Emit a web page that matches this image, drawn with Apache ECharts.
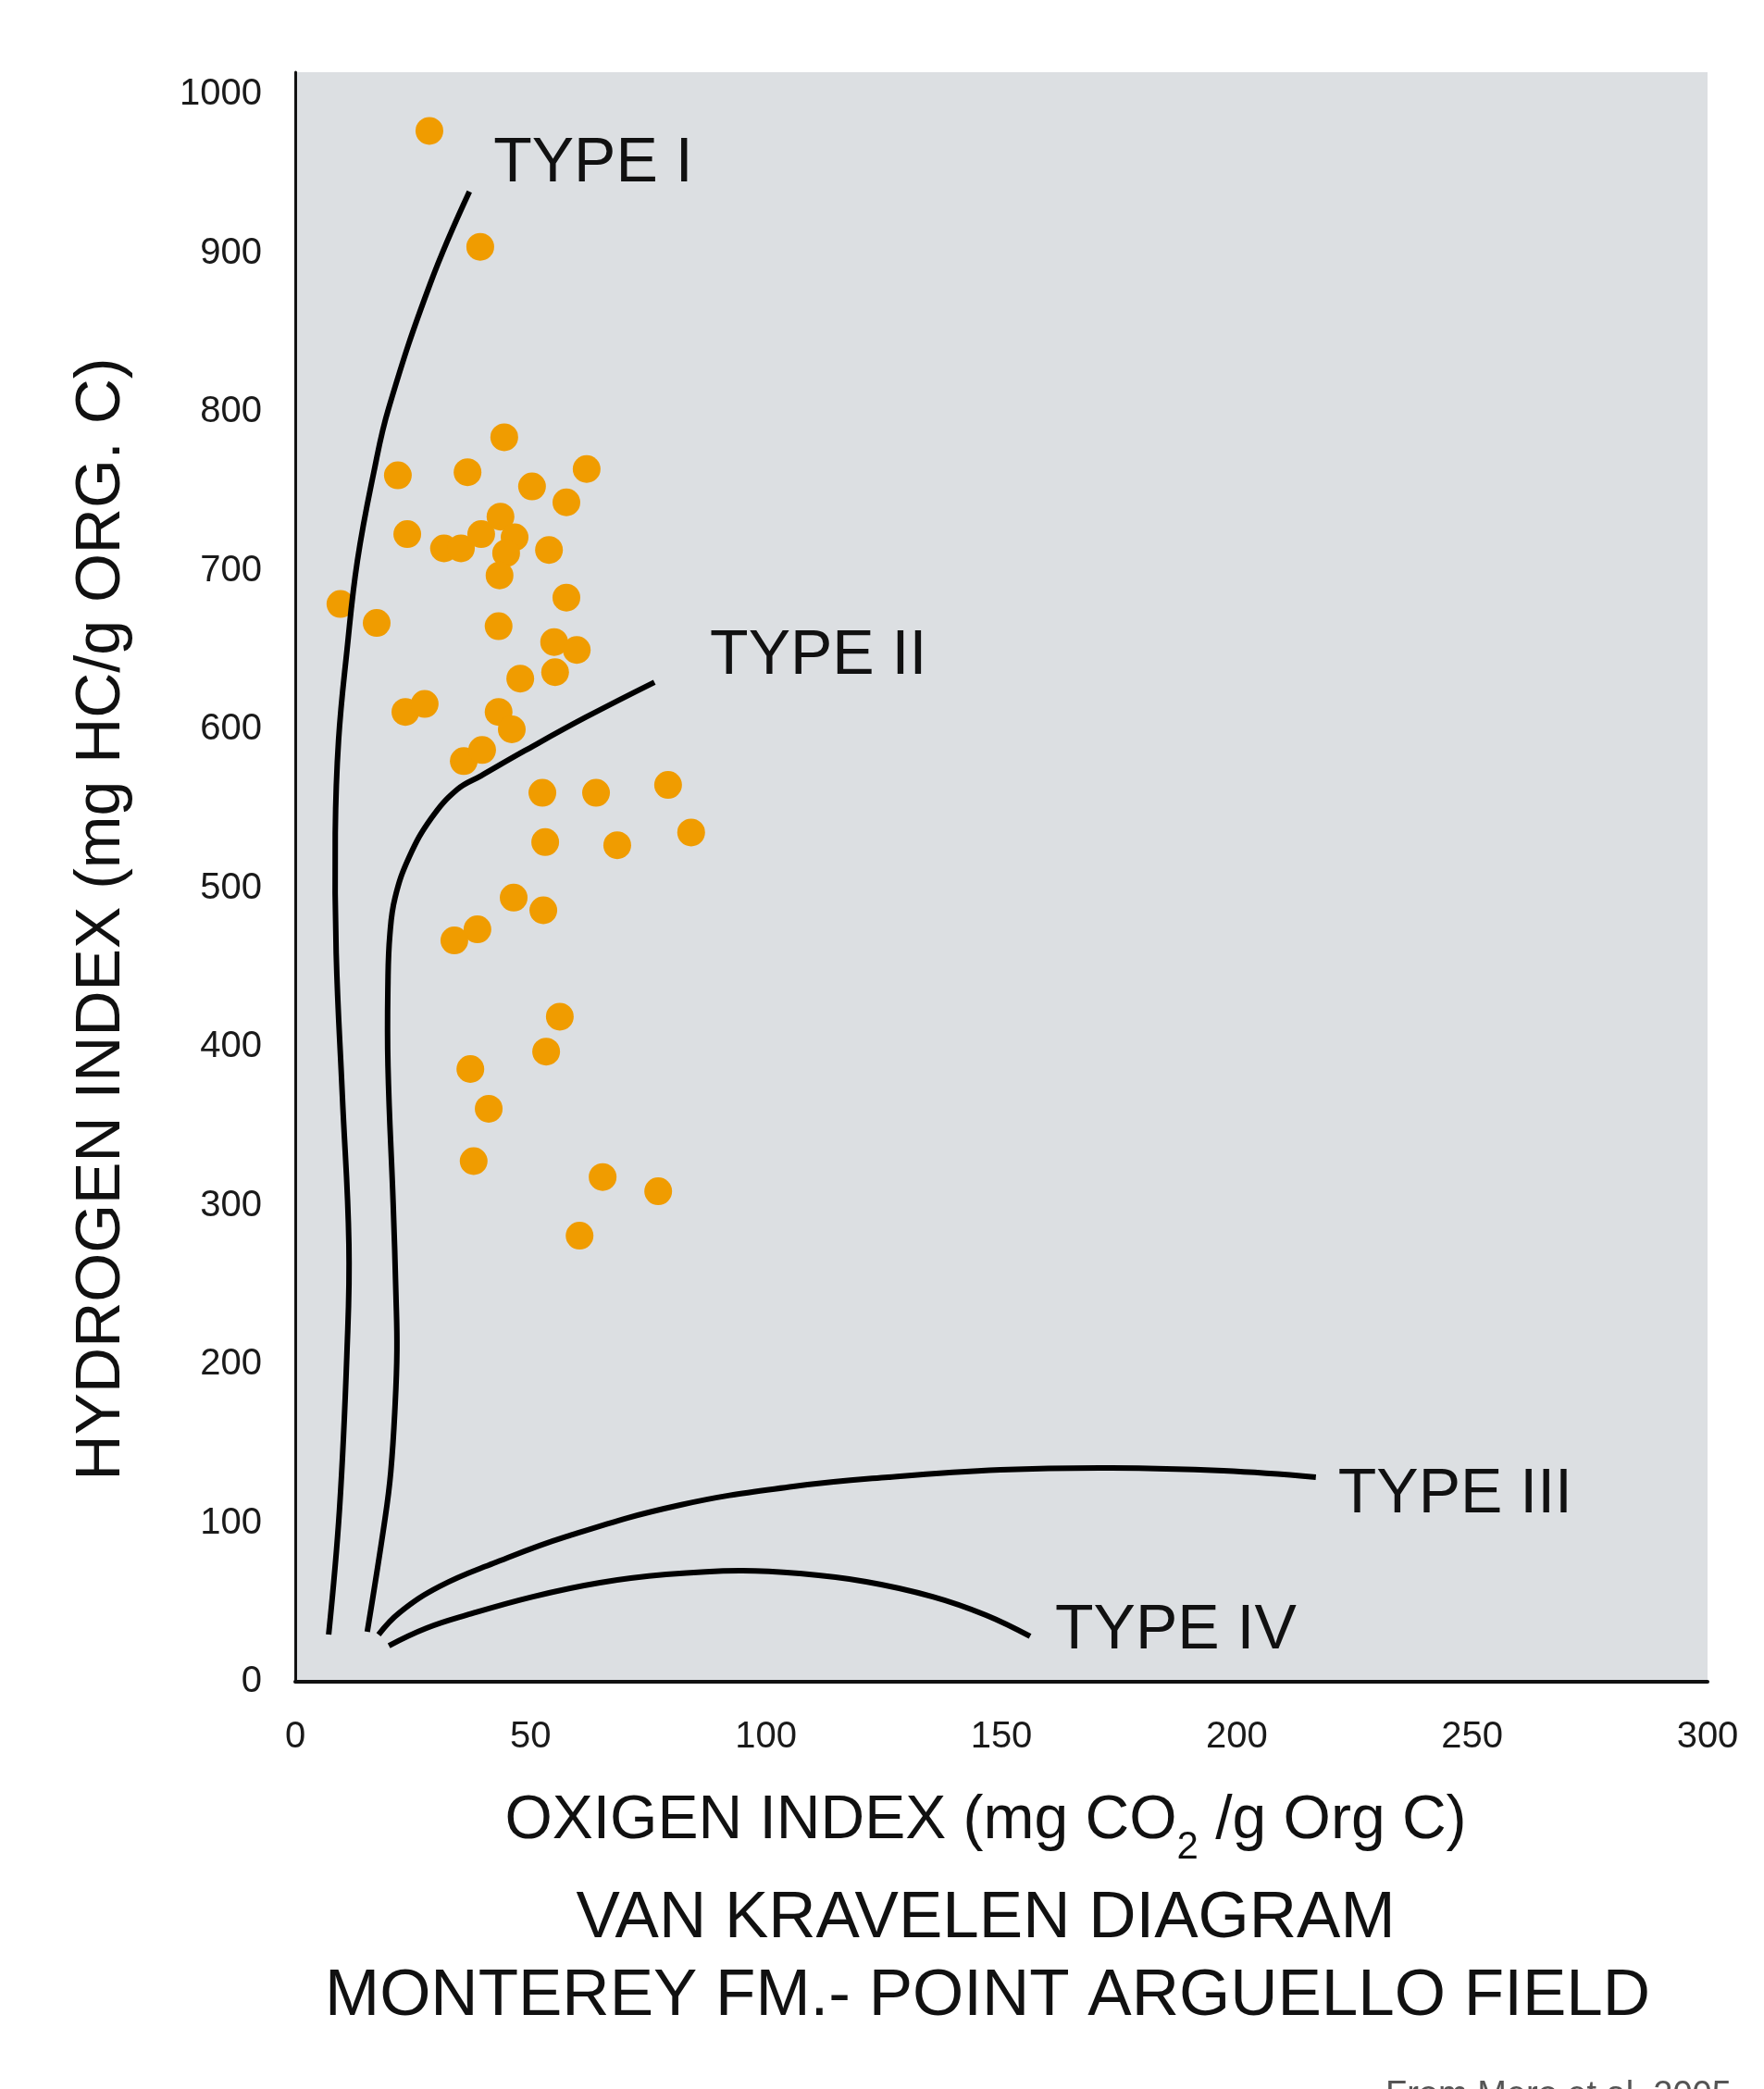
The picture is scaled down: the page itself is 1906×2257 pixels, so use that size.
<!DOCTYPE html>
<html>
<head>
<meta charset="utf-8">
<script src="https://cdn.jsdelivr.net/npm/echarts@6/dist/echarts.min.js"></script>
<style>
html,body{margin:0;padding:0;background:#fff;}
#chart{width:1906px;height:2257px;}
</style>
</head>
<body>
<div id="chart"></div>
<script>
// Sample points: Oxygen Index (x) and Hydrogen Index (y)
var oxygenIndex = [28.5, 39.3,
  44.4, 21.8, 36.6, 61.9, 50.3, 57.6,
  23.8, 43.6, 31.6, 35.2, 39.5, 46.6, 44.8, 43.4, 53.9,
  9.6, 17.3, 57.6, 43.2, 55.0, 59.8, 47.8, 55.2,
  23.4, 27.5, 43.2, 46.0, 35.8, 39.7,
  52.5, 63.9, 79.2, 84.1, 53.1, 68.4,
  46.4, 52.7, 38.7, 33.8,
  56.2, 53.3, 37.2, 41.1, 37.9, 65.3, 77.1, 60.4];
var hydrogenIndex = [977, 904,
  784, 760, 762, 764, 753, 743,
  723, 734, 714, 714, 723, 721, 711, 697, 713,
  679, 667, 683, 665, 655, 650, 632, 636,
  611, 616, 611, 600, 580, 587,
  560, 560, 565, 535, 529, 527,
  494, 486, 474, 467,
  419, 397, 386, 361, 328, 318, 309, 281];

// Kerogen type evolution curves
var typeI_OI = [7.1, 9.4, 11.0, 11.4, 10.0, 8.7, 8.5, 9.2, 11.0, 13.2, 16.7, 19.9, 28.7, 37.0];
var typeI_HI = [29.7, 108.5, 208.7, 275.8, 369.7, 458.9, 534.7, 593.0, 650.1, 706.1, 762.1, 802.9, 881.0, 938.8];
var typeII_OI = [15.3, 19.1, 20.3, 21.2, 21.6, 21.4, 20.8, 19.7, 19.7, 20.1, 21.2, 24.2, 28.9, 34.4, 39.5, 48.8, 61.7, 76.3];
var typeII_HI = [31.5, 103.2, 132.4, 173.2, 208.7, 243.1, 301.5, 387.8, 441.4, 470.6, 493.9, 519.5, 544.0, 562.1, 570.8, 586.6, 607.6, 629.7];
var typeIII_OI = [17.7, 22.2, 30.7, 42.1, 57.6, 81.8, 105.8, 126.0, 149.8, 173.4, 197.2, 216.8];
var typeIII_HI = [29.7, 43.7, 60.1, 74.6, 91.5, 111.4, 123.0, 128.9, 133.5, 134.7, 132.9, 128.9];
var typeIV_OI = [19.9, 27.9, 36.4, 50.5, 64.7, 78.8, 94.4, 107.1, 121.3, 135.4, 146.7, 156.1];
var typeIV_HI = [22.7, 33.8, 42.0, 53.6, 62.4, 67.6, 70.0, 68.2, 63.0, 53.6, 42.0, 28.6];

var curveNames = ['TYPE I', 'TYPE II', 'TYPE III', 'TYPE IV'];

var xTicks = [0, 50, 100, 150, 200, 250, 300];
var yTicks = [0, 100, 200, 300, 400, 500, 600, 700, 800, 900, 1000];

var FONT = '"Liberation Sans", Arial, Helvetica, sans-serif';

function zip(a, b) { return a.map(function (v, i) { return [v, b[i]]; }); }

// Smooth (C1) cubic path through pixel points, no clamping
function smoothPath(pts, s) {
  var n = pts.length, d = 'M' + pts[0][0] + ' ' + pts[0][1];
  function dist(a, b) { return Math.sqrt((a[0]-b[0])*(a[0]-b[0]) + (a[1]-b[1])*(a[1]-b[1])); }
  var outCp = [], inCp = [];
  for (var i = 0; i < n; i++) {
    var p = pts[i];
    if (i === 0 || i === n - 1) { outCp[i] = p; inCp[i] = p; continue; }
    var prev = pts[i-1], next = pts[i+1];
    var vx = next[0] - prev[0], vy = next[1] - prev[1];
    var dp = dist(p, prev), dn = dist(p, next), t = dp + dn;
    inCp[i] = [p[0] - vx * s * dp / t, p[1] - vy * s * dp / t];
    outCp[i] = [p[0] + vx * s * dn / t, p[1] + vy * s * dn / t];
  }
  for (var j = 1; j < n; j++) {
    d += ' C' + outCp[j-1][0] + ' ' + outCp[j-1][1] + ' ' + inCp[j][0] + ' ' + inCp[j][1] + ' ' + pts[j][0] + ' ' + pts[j][1];
  }
  return d;
}

function curve(name, xs, ys, label, off) {
  var data = zip(xs, ys);
  return {
    type: 'custom', name: name, coordinateSystem: 'cartesian2d', data: data, z: 3, silent: true,
    encode: { x: 0, y: 1 },
    renderItem: function (params, api) {
      if (params.dataIndex !== data.length - 1) return null;
      var pts = data.map(function (p) { return api.coord(p); });
      var end = pts[pts.length - 1];
      return {
        type: 'group',
        children: [
          { type: 'path', shape: { pathData: smoothPath(pts, 0.42) },
            style: { stroke: '#000', lineWidth: 6, fill: null, lineCap: 'butt', lineJoin: 'round' } },
          { type: 'text', x: end[0] + off[0], y: end[1] + off[1],
            style: { text: label, font: '68px ' + FONT, fill: '#111', textAlign: 'left', textVerticalAlign: 'middle' } }
        ]
      };
    }
  };
}

var chart = echarts.init(document.getElementById('chart'));
chart.setOption({
  animation: false,
  backgroundColor: '#ffffff',
  grid: { left: 319, right: 61, top: 78, bottom: 440, show: true, backgroundColor: '#dcdfe2', borderWidth: 0 },
  xAxis: {
    type: 'value', min: xTicks[0], max: xTicks[xTicks.length - 1], interval: 50,
    axisLine: { show: true, onZero: false, lineStyle: { color: '#111', width: 4 } },
    axisTick: { show: false }, splitLine: { show: false },
    axisLabel: { fontSize: 40, color: '#1a1a1a', margin: 40, fontFamily: FONT,
      formatter: function (v) { return xTicks.indexOf(v) >= 0 ? String(v) : ''; } }
  },
  yAxis: {
    type: 'value', min: 0, max: 1014, interval: 100,
    axisLine: { show: true, onZero: false, lineStyle: { color: '#111', width: 3 } },
    axisTick: { show: false }, splitLine: { show: false },
    axisLabel: { fontSize: 40, color: '#1a1a1a', margin: 36, fontFamily: FONT,
      formatter: function (v) { return yTicks.indexOf(v) >= 0 ? String(v) : ''; } }
  },
  series: [
    { type: 'scatter', name: 'Samples', data: zip(oxygenIndex, hydrogenIndex), symbolSize: 30, z: 2,
      itemStyle: { color: '#f09c00', opacity: 1 } },
    curve('Type I', typeI_OI, typeI_HI, curveNames[0], [26, -30]),
    curve('Type II', typeII_OI, typeII_HI, curveNames[1], [60, -28]),
    curve('Type III', typeIII_OI, typeIII_HI, curveNames[2], [24, 19]),
    curve('Type IV', typeIV_OI, typeIV_HI, curveNames[3], [27, -6])
  ],
  graphic: [
    { type: 'text', x: 110, y: 993, rotation: Math.PI / 2,
      style: { text: 'HYDROGEN INDEX (mg HC/g ORG. C)', font: '68px ' + FONT, fill: '#111',
        textAlign: 'center', textVerticalAlign: 'middle' } },
    { type: 'text', x: 1065, y: 1975,
      style: { text: '{m|OXIGEN INDEX (mg CO}{s|2}{m| /g Org C)}', fill: '#111',
        textAlign: 'center', textVerticalAlign: 'middle',
        rich: {
          m: { fontSize: 66, fontFamily: FONT, lineHeight: 80, verticalAlign: 'top', fill: '#111' },
          s: { fontSize: 42, fontFamily: FONT, lineHeight: 42, padding: [40, 0, 0, 0], verticalAlign: 'top', fill: '#111' }
        } } },
    { type: 'text', x: 1065, y: 2073,
      style: { text: 'VAN KRAVELEN DIAGRAM', font: '71px ' + FONT, fill: '#111',
        textAlign: 'center', textVerticalAlign: 'middle' } },
    { type: 'text', x: 1067, y: 2157,
      style: { text: 'MONTEREY FM.- POINT ARGUELLO FIELD', font: '71px ' + FONT, fill: '#111',
        textAlign: 'center', textVerticalAlign: 'middle' } },
    { type: 'text', x: 1497, y: 2246,
      style: { text: 'From Mero et al. 2005', font: '38px ' + FONT, fill: '#555',
        textAlign: 'left', textVerticalAlign: 'top' } }
  ]
});
</script>
</body>
</html>
